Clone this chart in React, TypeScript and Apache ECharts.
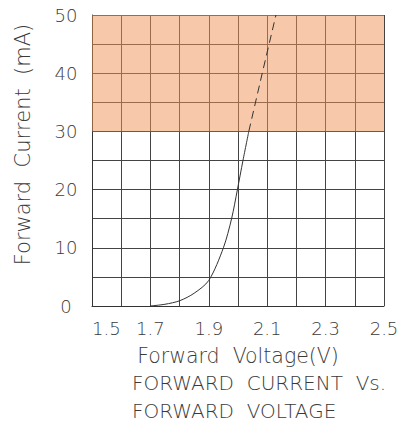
import React, { useEffect, useRef } from "react";
import * as echarts from "echarts";

const xTicks = [1.5, 1.7, 1.9, 2.1, 2.3, 2.5];
const yTicks = [0, 10, 20, 30, 40, 50];
const solidVoltage = [1.7, 1.75, 1.8, 1.85, 1.9, 1.95, 1.978, 1.998, 2.017, 2.037];
const solidCurrent = [0, 0.3, 0.9, 2.2, 4.4, 10, 15, 20, 25, 30];
const dashedVoltage = [2.037, 2.083, 2.13];
const dashedCurrent = [30, 40, 50];
const shadeRange = [30, 50];

const FONT = "DejaVu Sans";
const TXT = "#3a3a3a";
const W = 200;

export default function App() {
  const ref = useRef<HTMLDivElement>(null);
  useEffect(() => {
    document.body.style.margin = "0";
    const chart = echarts.init(ref.current!, null, { renderer: "svg" });
    const solid = solidVoltage.map((v, i) => [v, solidCurrent[i]]);
    const dashed = dashedVoltage.map((v, i) => [v, dashedCurrent[i]]);
    chart.setOption({
      animation: false,
      grid: { left: 92, top: 15, right: 21, bottom: 122, containLabel: false },
      title: {
        text: "FORWARD  CURRENT  Vs.\nFORWARD  VOLTAGE",
        left: 127,
        top: 364,
        textStyle: {
          fontFamily: FONT,
          fontSize: 20,
          fontWeight: W,
          color: TXT,
          lineHeight: 28,
        },
      },
      xAxis: {
        type: "value",
        min: 1.5,
        max: 2.5,
        interval: 0.1,
        name: "Forward  Voltage(V)",
        nameLocation: "middle",
        nameGap: 39,
        nameTextStyle: { fontFamily: FONT, fontSize: 20.5, fontWeight: W, color: TXT },
        axisLine: { show: true, lineStyle: { color: "#333", width: 1 } },
        axisTick: { show: false },
        axisLabel: {
          interval: 1,
          margin: 13,
          alignMinLabel: "left",
          fontFamily: FONT,
          fontSize: 18,
          fontWeight: W,
          color: TXT,
          formatter: (v: number) => {
            const r = Math.round(v * 10) / 10;
            return xTicks.some((t) => Math.abs(t - r) < 1e-6) ? r.toFixed(1) : "";
          },
        },
        splitLine: { show: true, lineStyle: { color: "#444", width: 1 } },
      },
      yAxis: {
        type: "value",
        min: 0,
        max: 50,
        interval: 5,
        name: "Forward  Current  (mA)",
        nameLocation: "middle",
        nameRotate: 90,
        nameGap: 59,
        nameTextStyle: {
          fontFamily: FONT,
          fontSize: 21,
          fontWeight: W,
          color: TXT,
          padding: [0, 0, 0, 32],
        },
        axisLine: { show: true, lineStyle: { color: "#333", width: 1 } },
        axisTick: { show: false },
        axisLabel: {
          interval: 1,
          margin: 26,
          align: "center",
          fontFamily: FONT,
          fontSize: 18,
          fontWeight: W,
          color: TXT,
          formatter: (v: number) => (yTicks.includes(v) ? String(v) : ""),
        },
        splitLine: { show: true, lineStyle: { color: "#444", width: 1 } },
      },
      series: [
        {
          type: "line",
          data: solid,
          smooth: 0.3,
          symbol: "none",
          clip: false,
          lineStyle: { color: "#333", width: 1 },
          z: 2,
        },
        {
          type: "line",
          data: dashed,
          symbol: "none",
          clip: false,
          lineStyle: { color: "#333", width: 1, type: [8, 5] },
          z: 2,
          markArea: {
            silent: true,
            itemStyle: { color: "rgba(240,146,84,0.5)" },
            data: [[{ coord: [1.5, shadeRange[0]] }, { coord: [2.51, shadeRange[1] + 0.5] }]],
          },
        },
      ],
    });
    return () => chart.dispose();
  }, []);
  return <div ref={ref} style={{ width: 405, height: 428 }} />;
}
